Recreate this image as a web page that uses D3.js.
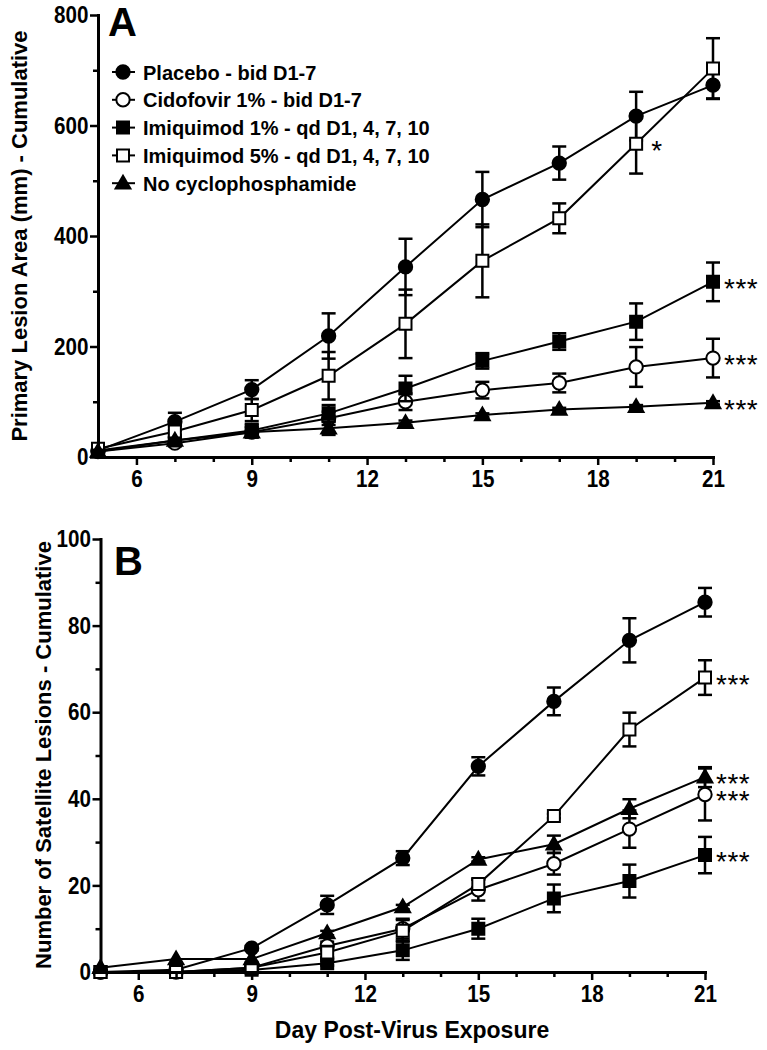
<!DOCTYPE html>
<html><head><meta charset="utf-8">
<script src="https://cdn.jsdelivr.net/npm/d3@7"></script>
<style>body{margin:0;background:#fff} svg{display:block}</style>
</head><body><svg id="c" width="767" height="1050"></svg>
<script>
// ---------- data ----------
const days = [5, 7, 9, 11, 13, 15, 17, 19, 21];
const seriesNames = ["Placebo - bid D1-7", "Cidofovir 1% - bid D1-7", "Imiquimod 1% - qd D1, 4, 7, 10", "Imiquimod 5% - qd D1, 4, 7, 10", "No cyclophosphamide"];
const seriesSymbols = ["circle", "circle", "square", "square", "triangle"];
const seriesFilled = [true, false, true, false, true];

// Panel A: Primary lesion area (mm) - cumulative, mean and SEM
const areaPlacebo     = [12, 64, 122, 219, 344, 466, 532, 617, 673];
const areaPlaceboErr  = [5, 16, 17, 41, 51, 50, 30, 44, 24];
const areaCidofovir   = [10, 25, 45, 70, 100, 121, 134, 163, 179];
const areaCidofovirErr= [3, 5, 10, 12, 15, 15, 17, 36, 35];
const areaImiq1       = [12, 30, 48, 79, 124, 174, 209, 245, 317];
const areaImiq1Err    = [4, 6, 12, 15, 23, 14, 15, 33, 35];
const areaImiq5       = [15, 46, 85, 147, 241, 355, 432, 567, 703];
const areaImiq5Err    = [4, 10, 20, 43, 62, 66, 27, 54, 55];
const areaNoCyclo     = [10, 30, 45, 52, 62, 76, 86, 91, 98];
const areaNoCycloErr  = [3, 4, 8, 12, 4, 3, 3, 3, 3];

// Panel B: Number of satellite lesions - cumulative
const satPlacebo      = [0, 0.5, 5.5, 15.5, 26.3, 47.5, 62.5, 76.6, 85.4];
const satPlaceboErr   = [0.3, 0.3, 0.5, 2.1, 1.6, 2.1, 3.2, 5.1, 3.3];
const satCidofovir    = [0, 0, 1, 6, 10, 19, 25, 33, 41];
const satCidofovirErr = [0, 0, 0.5, 1, 2.3, 2.5, 2.5, 4.3, 6];
const satImiq1        = [0, 0, 0.5, 2, 5, 10, 17, 21, 27];
const satImiq1Err     = [0, 0, 0.3, 0.5, 2.2, 2.3, 3.2, 3.8, 4.2];
const satImiq5        = [0, 0, 1, 4.5, 9.5, 20.3, 36, 56, 68];
const satImiq5Err     = [0, 0, 0.5, 1.5, 2.5, 1, 0.5, 3.9, 4];
const satNoCyclo      = [1, 3, 3, 9, 15, 26, 29.5, 37.7, 45];
const satNoCycloErr   = [0, 0, 0, 0.5, 0.5, 0.5, 2, 2.2, 2.3];

// tick values
const xMajorTicks = [6, 9, 12, 15, 18, 21];
const xMinorTicks = [7, 8, 10, 11, 13, 14, 16, 17, 19, 20];
const yMajorTicksA = [0, 200, 400, 600, 800];
const yMinorTicksA = [100, 300, 500, 700];
const yMajorTicksB = [0, 20, 40, 60, 80, 100];
const yMinorTicksB = [10, 30, 50, 70, 90];

// significance marks: [seriesIndex, day, text]
const starsA = [[3, 19, "*"], [2, 21, "***"], [1, 21, "***"], [4, 21, "***"]];
const starsB = [[3, 21, "***"], [4, 21, "***"], [1, 21, "***"], [2, 21, "***"]];

const xTitle = "Day Post-Virus Exposure";
const yTitleA = "Primary Lesion Area (mm) - Cumulative";
const yTitleB = "Number of Satellite Lesions - Cumulative";

// ---------- drawing ----------
const svg = d3.select("#c");
const FONT = "'Liberation Sans', Arial, sans-serif";

function symbolPath(kind) {
  if (kind === "circle") return d3.symbol(d3.symbolCircle, 140)();
  if (kind === "square") return d3.symbol(d3.symbolSquare, 144)();
  return d3.symbol(d3.symbolTriangle, 95)();
}

function panel(cfg) {
  const x = d3.scaleLinear().domain([5, 21]).range(cfg.xRange);
  const y = d3.scaleLinear().domain(cfg.yDomain).range(cfg.yRange);
  const g = svg.append("g");

  cfg.series.forEach((s, i) => {
    const sg = g.append("g");
    const pts = days.map((d, k) => ({d, v: s.v[k], e: s.e[k]}));
    const eb = sg.selectAll("g.eb").data(pts.filter(p => p.e > 0)).enter().append("g");
    eb.append("line")
      .attr("x1", p => x(p.d)).attr("x2", p => x(p.d))
      .attr("y1", p => y(p.v - p.e)).attr("y2", p => y(p.v + p.e))
      .attr("stroke", "#000").attr("stroke-width", 2.5);
    [-1, 1].forEach(sgn => {
      eb.append("line")
        .attr("x1", p => x(p.d) - 7).attr("x2", p => x(p.d) + 7)
        .attr("y1", p => y(p.v + sgn * p.e)).attr("y2", p => y(p.v + sgn * p.e))
        .attr("stroke", "#000").attr("stroke-width", 2.5);
    });
    sg.append("path")
      .attr("d", d3.line().x(p => x(p.d)).y(p => y(p.v))(pts))
      .attr("fill", "none").attr("stroke", "#000").attr("stroke-width", 2);
    sg.selectAll("path.m").data(pts).enter().append("path")
      .attr("d", symbolPath(seriesSymbols[i]))
      .attr("transform", p => `translate(${x(p.d)},${y(p.v) + (seriesSymbols[i] === "triangle" ? 1 : 0)})`)
      .attr("fill", seriesFilled[i] ? "#000" : "#fff")
      .attr("stroke", "#000").attr("stroke-width", 2);
  });

  const styleAxis = (a) => {
    a.select(".domain").attr("stroke-width", 3).attr("stroke-linecap", "square");
    a.selectAll(".tick line").attr("stroke-width", 2.5);
    a.selectAll("text").attr("font-family", FONT).attr("font-weight", "bold")
      .attr("font-size", 24).attr("fill", "#000")
      .attr("transform", "scale(0.86,1)");
  };
  const xAxisY = cfg.yRange[0];
  const yAxisX = cfg.xRange[0];
  g.append("g").attr("transform", `translate(0,${xAxisY})`)
    .call(d3.axisBottom(x).tickValues(xMinorTicks).tickSize(5).tickSizeOuter(0).tickFormat(""))
    .call(a => { a.select(".domain").remove(); a.selectAll(".tick line").attr("stroke-width", 2.5); });
  g.append("g").attr("transform", `translate(${yAxisX},0)`)
    .call(d3.axisLeft(y).tickValues(cfg.yMinor).tickSize(5).tickSizeOuter(0).tickFormat(""))
    .call(a => { a.select(".domain").remove(); a.selectAll(".tick line").attr("stroke-width", 2.5); });
  g.append("g").attr("transform", `translate(0,${xAxisY})`)
    .call(d3.axisBottom(x).tickValues(xMajorTicks).tickSize(8).tickPadding(5).tickSizeOuter(0))
    .call(styleAxis);
  g.append("g").attr("transform", `translate(${yAxisX},0)`)
    .call(d3.axisLeft(y).tickValues(cfg.yMajor).tickSize(8).tickPadding(3).tickSizeOuter(0))
    .call(styleAxis);

  cfg.stars.forEach(([si, d, t]) => {
    const k = days.indexOf(d);
    g.append("text")
      .attr("x", x(d) + (t === "*" ? 15 : 11))
      .attr("y", y(cfg.series[si].v[k]) + 16)
      .attr("font-family", FONT).attr("font-size", 28).attr("fill", "#000")
      .attr("letter-spacing", 0.5)
      .text(t);
  });

  g.append("text").attr("x", cfg.letterPos[0]).attr("y", cfg.letterPos[1])
    .attr("font-family", FONT).attr("font-weight", "bold").attr("font-size", 40)
    .text(cfg.letter);

  g.append("text")
    .attr("transform", `translate(${cfg.yTitlePos[0]},${cfg.yTitlePos[1]}) rotate(-90)`)
    .attr("text-anchor", "middle").attr("dominant-baseline", "central")
    .attr("font-family", FONT).attr("font-weight", "bold").attr("font-size", 22)
    .text(cfg.yTitle);

  return {x, y, g};
}

panel({
  xRange: [98, 713], yRange: [457, 15], yDomain: [0, 800],
  yMajor: yMajorTicksA, yMinor: yMinorTicksA,
  series: [
    {v: areaPlacebo, e: areaPlaceboErr},
    {v: areaCidofovir, e: areaCidofovirErr},
    {v: areaImiq1, e: areaImiq1Err},
    {v: areaImiq5, e: areaImiq5Err},
    {v: areaNoCyclo, e: areaNoCycloErr}
  ],
  stars: starsA, letter: "A", letterPos: [108, 36],
  yTitle: yTitleA, yTitlePos: [19, 236]
});

panel({
  xRange: [100.5, 705], yRange: [972, 539], yDomain: [0, 100],
  yMajor: yMajorTicksB, yMinor: yMinorTicksB,
  series: [
    {v: satPlacebo, e: satPlaceboErr},
    {v: satCidofovir, e: satCidofovirErr},
    {v: satImiq1, e: satImiq1Err},
    {v: satImiq5, e: satImiq5Err},
    {v: satNoCyclo, e: satNoCycloErr}
  ],
  stars: starsB, letter: "B", letterPos: [114, 575],
  yTitle: yTitleB, yTitlePos: [43, 755]
});

// legend (panel A)
const leg = svg.append("g");
seriesNames.forEach((name, i) => {
  const cy = 72 + i * 27.8;
  leg.append("line").attr("x1", 112).attr("x2", 135).attr("y1", cy).attr("y2", cy)
    .attr("stroke", "#000").attr("stroke-width", 2);
  leg.append("path").attr("d", symbolPath(seriesSymbols[i]))
    .attr("transform", `translate(123,${cy + (seriesSymbols[i] === "triangle" ? 1 : 0)})`)
    .attr("fill", seriesFilled[i] ? "#000" : "#fff").attr("stroke", "#000").attr("stroke-width", 2);
  leg.append("text").attr("x", 143).attr("y", cy + 7.5)
    .attr("font-family", FONT).attr("font-weight", "bold").attr("font-size", 20)
    .text(name);
});

svg.append("text").attr("x", 412).attr("y", 1038).attr("text-anchor", "middle")
  .attr("font-family", FONT).attr("font-weight", "bold").attr("font-size", 23)
  .text(xTitle);
</script>
</body></html>
